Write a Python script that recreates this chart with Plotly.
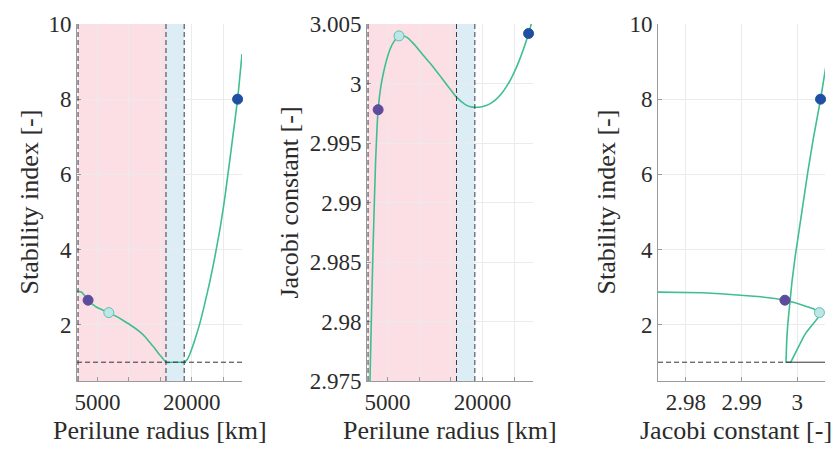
import plotly.graph_objects as go

# ---------------- data ----------------
perilune_radius = [1737, 1900, 2100, 2250, 2400, 2550, 2700, 2900, 3100, 3300, 3500, 3900,
                   4300, 4800, 5400, 6100, 6800, 7400, 8000, 9100, 10600, 11800, 12600,
                   13300, 14000, 14600, 15300, 15900, 17300, 18100, 18800, 19300, 19700,
                   20100, 20500, 21300, 22100, 22900, 23700, 24500, 25200, 25800, 26500,
                   27300, 28000]
stability_index = [2.90, 2.89, 2.88, 2.875, 2.87, 2.85, 2.82, 2.78, 2.74, 2.695, 2.65, 2.58,
                   2.53, 2.47, 2.42, 2.37, 2.32, 2.27, 2.22, 2.11, 1.95, 1.80, 1.67,
                   1.53, 1.39, 1.26, 1.12, 1.00, 1.00, 1.00, 1.00, 1.08, 1.22,
                   1.40, 1.60, 2.04, 2.58, 3.16, 3.82, 4.55, 5.30, 6.05, 6.95,
                   8.00, 9.20]
jacobi_constant = [2.9550, 2.9630, 2.9720, 2.9760, 2.9795, 2.9830, 2.9862, 2.9900, 2.9935,
                   2.9960, 2.9978, 2.99965, 3.0008, 3.0019, 3.0029, 3.0036, 3.0040, 3.00398,
                   3.0039, 3.00335, 3.0024, 3.00165, 3.00112, 3.00064, 3.00015, 2.99973,
                   2.99925, 2.99885, 2.99823, 2.99805, 2.99800, 2.99801, 2.99803, 2.99807,
                   2.99813, 2.99833, 2.99865, 2.99908, 2.99965, 3.00037, 3.00114, 3.00190,
                   3.00290, 3.00421, 3.00551]

# highlighted orbits (radius, stability, jacobi)
marker_radius = [3500, 6800, 27300]
marker_stability = [2.65, 2.32, 8.00]
marker_jacobi = [2.9978, 3.0040, 3.0042]

# radius regions [km]
region_bounds = [1900, 15900, 18800]
stability_threshold = 1.0

x_ticks = [5000, 10000, 15000, 20000, 25000]
x_ticktext = ["5000", "", "", "20000", ""]
s_ticks = [2, 4, 6, 8, 10]
c_ticks = [2.975, 2.98, 2.985, 2.99, 2.995, 3.0, 3.005]
c_ticktext = ["2.975", "2.98", "2.985", "2.99", "2.995", "3", "3.005"]
c3_ticks = [2.98, 2.99, 3.0]
c3_ticktext = ["2.98", "2.99", "3"]

# ---------------- style ----------------
GREEN = "#3fbf8f"
DOT_FILL = ["#5e4b9e", "#bde6e6", "#1f4fa3"]
DOT_LINE = ["#5e4b9e", "#5fc0b2", "#1f4fa3"]
PINK = "#fbdfe4"
BLUE = "#dcedf5"
DASH_C = "#343b48"
FONT = "Liberation Serif"
TXT = "#2b2b2b"
DASH = "5px,3px"

W, H = 837, 450
ML, MR, MT, MB = 77, 12, 15, 69
PW = W - ML - MR
PH = H - MT - MB


def dom(a, b):
    return [(a - ML) / PW, (b - ML) / PW]


def px(x):
    return (x - ML) / PW


def py(y):
    return (H - MB - y) / PH


fig = go.Figure()

fig.add_trace(go.Scatter(x=perilune_radius, y=stability_index, mode="lines",
                         line=dict(color=GREEN, width=1.6, shape="spline", smoothing=0.6),
                         xaxis="x", yaxis="y", showlegend=False))
fig.add_trace(go.Scatter(x=perilune_radius, y=jacobi_constant, mode="lines",
                         line=dict(color=GREEN, width=1.6, shape="spline", smoothing=1.0),
                         xaxis="x2", yaxis="y2", showlegend=False))
fig.add_trace(go.Scatter(x=jacobi_constant, y=stability_index, mode="lines",
                         line=dict(color=GREEN, width=1.6),
                         xaxis="x3", yaxis="y3", showlegend=False))

for xs, ys, xa, ya in [(marker_radius, marker_stability, "x", "y"),
                       (marker_radius, marker_jacobi, "x2", "y2"),
                       (marker_jacobi, marker_stability, "x3", "y3")]:
    fig.add_trace(go.Scatter(x=xs, y=ys, mode="markers", xaxis=xa, yaxis=ya,
                             marker=dict(size=10, color=DOT_FILL,
                                         line=dict(color=DOT_LINE, width=1)),
                             showlegend=False, cliponaxis=False))

shapes = []
for xr, yr in [("x", "y"), ("x2", "y2")]:
    shapes.append(dict(type="rect", xref=xr, yref=yr + " domain", x0=region_bounds[0],
                       x1=region_bounds[1], y0=0, y1=1, fillcolor=PINK, line_width=0,
                       layer="below"))
    shapes.append(dict(type="rect", xref=xr, yref=yr + " domain", x0=region_bounds[1],
                       x1=region_bounds[2], y0=0, y1=1, fillcolor=BLUE, line_width=0,
                       layer="below"))
    for b in region_bounds:
        shapes.append(dict(type="line", xref=xr, yref=yr + " domain", x0=b, x1=b, y0=0, y1=1,
                           line=dict(color=DASH_C, width=1, dash=DASH)))
shapes.append(dict(type="line", xref="x domain", yref="y", x0=0, x1=1,
                   y0=stability_threshold, y1=stability_threshold,
                   line=dict(color="#333333", width=1, dash=DASH)))
c_min = min(jacobi_constant[20:])
shapes.append(dict(type="line", xref="x3", yref="y3", x0=2.975, x1=c_min,
                   y0=stability_threshold, y1=stability_threshold,
                   line=dict(color="#333333", width=1, dash=DASH)))
shapes.append(dict(type="line", xref="x3", yref="y3", x0=c_min, x1=3.005,
                   y0=stability_threshold, y1=stability_threshold,
                   line=dict(color="#333333", width=1)))

axis_common = dict(showgrid=True, gridcolor="#ebebeb", gridwidth=1, zeroline=False,
                   showline=True, linecolor="#9a9a9a", linewidth=1, ticks="inside",
                   ticklen=4, tickcolor="#9a9a9a", mirror=False,
                   tickfont=dict(family=FONT, size=23, color=TXT))

fig.update_layout(
    width=W, height=H, margin=dict(l=ML, r=MR, t=MT, b=MB),
    paper_bgcolor="white", plot_bgcolor="white", shapes=shapes,
    xaxis=dict(axis_common, domain=dom(77, 242), range=[1737, 28000], tickvals=x_ticks,
               ticktext=x_ticktext, anchor="y"),
    yaxis=dict(axis_common, range=[0.5, 10], tickvals=s_ticks, anchor="x"),
    xaxis2=dict(axis_common, domain=dom(367, 533), range=[1737, 28000], tickvals=x_ticks,
                ticktext=x_ticktext, anchor="y2"),
    yaxis2=dict(axis_common, range=[2.975, 3.005], tickvals=c_ticks, ticktext=c_ticktext,
                anchor="x2"),
    xaxis3=dict(axis_common, domain=dom(658, 825), range=[2.975, 3.005], tickvals=c3_ticks,
                ticktext=c3_ticktext, anchor="y3"),
    yaxis3=dict(axis_common, range=[0.5, 10], tickvals=s_ticks, anchor="x3"),
)

title_font = dict(family=FONT, size=26, color=TXT)
annotations = [
    dict(text="Perilune radius [km]", x=px(159.5), y=py(432)),
    dict(text="Perilune radius [km]", x=px(450), y=py(432)),
    dict(text="Jacobi constant [-]", x=px(736), y=py(432)),
    dict(text="Stability index [-]", x=px(29), y=py(198), textangle=-90),
    dict(text="Jacobi constant [-]", x=px(289), y=py(198), textangle=-90),
    dict(text="Stability index [-]", x=px(606), y=py(198), textangle=-90),
]
for a in annotations:
    a.update(xref="paper", yref="paper", showarrow=False, font=title_font,
             xanchor="center", yanchor="middle")
fig.update_layout(annotations=annotations)

fig.write_html("out.html")
